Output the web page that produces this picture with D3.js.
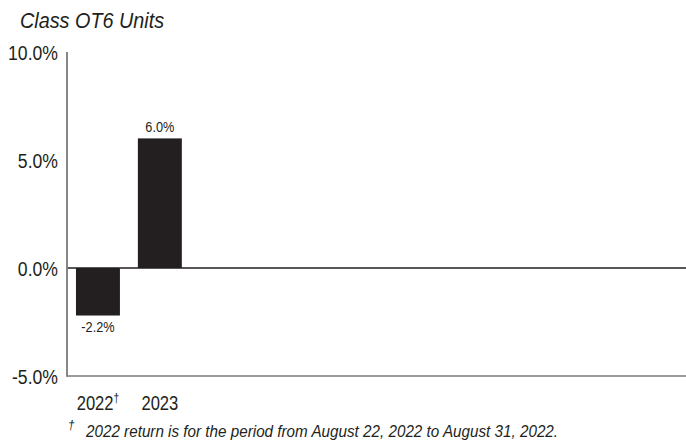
<!DOCTYPE html>
<html>
<head>
<meta charset="utf-8">
<script src="https://cdn.jsdelivr.net/npm/d3@7"></script>
<style>
  html, body { margin: 0; padding: 0; background: #fff; }
  svg { display: block; }
  text { font-family: "Liberation Sans", Arial, sans-serif; fill: #231f20; }
</style>
</head>
<body>
<svg id="chart" width="686" height="442"></svg>
<script>
const title = "Class OT6 Units";
const categories = ["2022", "2023"];
const categoryMarks = ["†", ""];
const values = [-2.2, 6.0];
const valueLabels = ["-2.2%", "6.0%"];
const yTicks = [-5, 0, 5, 10];
const yTickLabels = ["-5.0%", "0.0%", "5.0%", "10.0%"];
const slotCount = 10;
const footnoteMark = "†";
const footnote = "2022 return is for the period from August 22, 2022 to August 31, 2022.";

const svg = d3.select("#chart");
const plotLeft = 67, plotRight = 686, plotTop = 52, plotBottom = 376;

const x = d3.scaleBand()
  .domain(d3.range(slotCount))
  .range([plotLeft, plotRight])
  .paddingInner(0.29)
  .paddingOuter(0.145);

const y = d3.scaleLinear().domain([-5, 10]).range([plotBottom, plotTop]);

const pos = (px, py, sx) => `translate(${px},${py}) scale(${sx},1)`;

// title
svg.append("text")
  .attr("transform", pos(20, 28, 0.88))
  .attr("font-size", 22.5)
  .attr("font-style", "italic")
  .text(title);

// y tick labels
svg.selectAll("text.ytick").data(yTicks).enter().append("text")
  .attr("class", "ytick")
  .attr("transform", d => pos(58, y(d) + 7.5, 0.86))
  .attr("text-anchor", "end")
  .attr("font-size", 20.5)
  .text((d, i) => yTickLabels[i]);

// bars
svg.selectAll("rect.bar").data(values).enter().append("rect")
  .attr("class", "bar")
  .attr("x", (d, i) => x(i))
  .attr("width", x.bandwidth())
  .attr("y", d => y(Math.max(0, d)))
  .attr("height", d => Math.abs(y(d) - y(0)))
  .attr("fill", "#231f20");

// value labels
svg.selectAll("text.vlabel").data(values).enter().append("text")
  .attr("class", "vlabel")
  .attr("transform", (d, i) => pos(x(i) + x.bandwidth() / 2, d >= 0 ? y(d) - 6 : y(d) + 16, 0.85))
  .attr("text-anchor", "middle")
  .attr("font-size", 15)
  .text((d, i) => valueLabels[i]);

// axes lines
svg.append("line")
  .attr("x1", plotLeft).attr("x2", plotRight)
  .attr("y1", y(-5)).attr("y2", y(-5))
  .attr("stroke", "#7a7a7c").attr("stroke-width", 1.6);
svg.append("line")
  .attr("x1", plotLeft).attr("x2", plotRight)
  .attr("y1", y(0)).attr("y2", y(0))
  .attr("stroke", "#231f20").attr("stroke-width", 1.4);
svg.append("line")
  .attr("x1", plotLeft).attr("x2", plotLeft)
  .attr("y1", plotTop).attr("y2", plotBottom + 0.8)
  .attr("stroke", "#7a7a7c").attr("stroke-width", 1.8);

// x category labels
const xl = svg.selectAll("text.xtick").data(categories).enter().append("text")
  .attr("class", "xtick")
  .attr("transform", (d, i) => pos(x(i) + x.bandwidth() / 2, 409.5, 0.79))
  .attr("text-anchor", "middle")
  .attr("font-size", 21);
xl.append("tspan").text(d => d);
xl.append("tspan")
  .attr("font-size", 13)
  .attr("dy", -8)
  .text((d, i) => categoryMarks[i]);

// footnote
svg.append("text")
  .attr("transform", pos(68, 429, 0.9))
  .attr("font-size", 13)
  .attr("font-style", "italic")
  .text(footnoteMark);
svg.append("text")
  .attr("transform", pos(86, 437, 0.935))
  .attr("font-size", 16.3)
  .attr("font-style", "italic")
  .text(footnote);
</script>
</body>
</html>
